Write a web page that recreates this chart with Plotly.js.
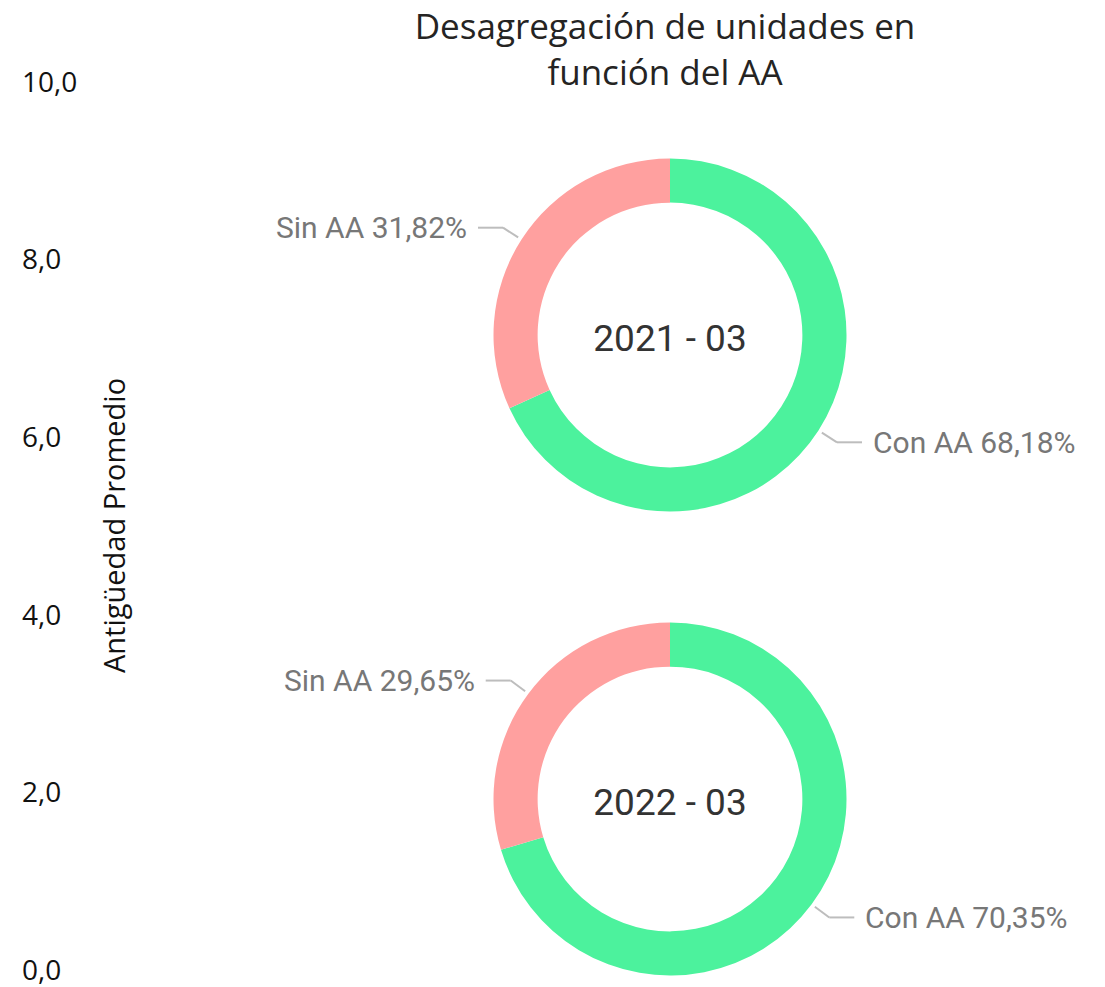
<!DOCTYPE html>
<html>
<head>
<meta charset="utf-8">
<script src="https://cdn.plot.ly/plotly-3.0.1.min.js"></script>
<style>html,body{margin:0;padding:0;background:#fff;}#chart{width:1105px;height:987px;}</style>
</head>
<body>
<div id="chart"></div>
<script>
// ---- data ----
const periods = ['2021 - 03', '2022 - 03'];
const categories = ['Con AA', 'Sin AA'];
const values2021 = [68.18, 31.82];
const values2022 = [70.35, 29.65];
const yTickVals = [0, 2, 4, 6, 8, 10];
const yTitle = 'Antigüedad Promedio';
const chartTitle = 'Desagregación de unidades en<br>función del AA';

// ---- layout geometry ----
const W = 1105, H = 987;
const colors = ['#4CF29D', '#FFA09F'];
const R = 176.5;
const centers = [[670, 335], [670, 799]];
const seriesList = [values2021, values2022];

const px2x = x => x / W;
const px2y = y => 1 - y / H;

const traces = [{
  type: 'scatter', x: [], y: [], mode: 'markers', hoverinfo: 'skip', showlegend: false
}];
const shapes = [];
const annotations = [];

seriesList.forEach((vals, i) => {
  const [cx, cy] = centers[i];
  traces.push({
    type: 'pie',
    labels: categories,
    values: vals,
    hole: 0.75,
    sort: false,
    direction: 'clockwise',
    rotation: 0,
    marker: {colors: colors, line: {width: 0}},
    textinfo: 'none',
    hoverinfo: 'label+percent',
    showlegend: false,
    domain: {x: [px2x(cx - R), px2x(cx + R)], y: [px2y(cy + R), px2y(cy - R)]},
    title: {text: periods[i], position: 'middle center',
            font: {family: 'Roboto', size: 37, color: '#333333', weight: 400}}
  });
  const total = vals.reduce((a, b) => a + b, 0);
  let cum = 0;
  vals.forEach((v, j) => {
    const th = 2 * Math.PI * (cum + v / 2) / total;
    cum += v;
    const dx = Math.sin(th), dy = -Math.cos(th);
    const p1 = [cx + dx * (R + 4), cy + dy * (R + 4)];
    const p2 = [cx + dx * (R + 22), cy + dy * (R + 22)];
    const sgn = dx >= 0 ? 1 : -1;
    const p3 = [p2[0] + sgn * 25, p2[1]];
    const lineStyle = {color: '#BDBDBD', width: 2};
    shapes.push({type: 'line', xref: 'paper', yref: 'paper',
      x0: px2x(p1[0]), y0: px2y(p1[1]), x1: px2x(p2[0]), y1: px2y(p2[1]), line: lineStyle});
    shapes.push({type: 'line', xref: 'paper', yref: 'paper',
      x0: px2x(p2[0]), y0: px2y(p2[1]), x1: px2x(p3[0]), y1: px2y(p3[1]), line: lineStyle});
    const pct = (v / total * 100).toFixed(2).replace('.', ',');
    annotations.push({
      xref: 'paper', yref: 'paper',
      x: px2x(p3[0] + sgn * 9), y: px2y(p3[1]),
      xanchor: sgn > 0 ? 'left' : 'right', yanchor: 'middle',
      text: categories[j] + ' ' + pct + '%', showarrow: false,
      font: {family: 'Roboto', size: 30, color: '#777777'}
    });
  });
});

annotations.push({
  xref: 'paper', yref: 'paper', x: px2x(113), y: px2y(526),
  xanchor: 'center', yanchor: 'middle', textangle: -90,
  text: yTitle, showarrow: false,
  font: {family: 'Open Sans', size: 29, color: '#111111'}
});

const layout = {
  width: W, height: H,
  margin: {l: 0, r: 0, t: 0, b: 0},
  paper_bgcolor: '#ffffff', plot_bgcolor: '#ffffff',
  separators: ',.',
  title: {text: chartTitle, x: px2x(665), xanchor: 'center', y: 1 - 39 / H, yanchor: 'top',
          font: {family: 'Open Sans', size: 35, color: '#252423'}},
  xaxis: {domain: [px2x(19), 1], visible: false, range: [0, 1], fixedrange: true},
  yaxis: {domain: [px2y(970), px2y(82)], range: [0, 10], tickvals: yTickVals, tickformat: '.1f',
          ticklabelposition: 'inside', ticklabeloverflow: 'allow', ticks: '',
          showgrid: false, zeroline: false, showline: false, fixedrange: true,
          tickfont: {family: 'Open Sans', size: 28, color: '#111111'}},
  shapes: shapes,
  annotations: annotations,
  showlegend: false
};

Plotly.newPlot('chart', traces, layout, {displayModeBar: false, staticPlot: true});
</script>
</body>
</html>
